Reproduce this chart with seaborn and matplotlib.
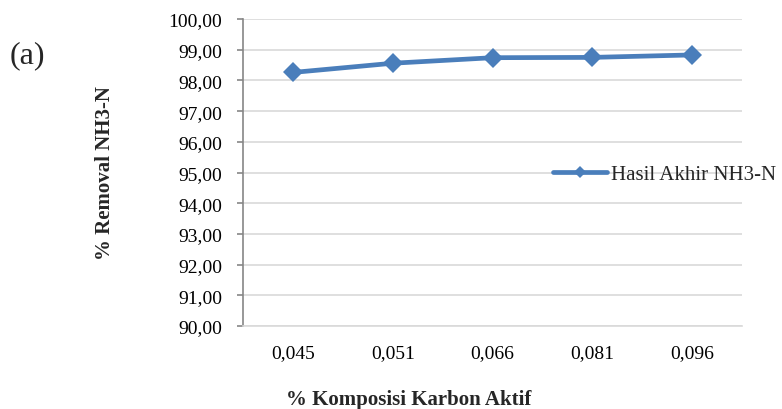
import matplotlib
matplotlib.use("Agg")
import matplotlib.pyplot as plt
import seaborn as sns
import pandas as pd
from matplotlib.ticker import FuncFormatter, MultipleLocator

# data
komposisi = ["0,045", "0,051", "0,066", "0,081", "0,096"]
removal = [98.26, 98.56, 98.74, 98.75, 98.83]
series_name = "Hasil Akhir NH3-N"

LINE_COLOR = "#4a7ebb"
GRID_COLOR = "#d9d9d9"
AXIS_COLOR = "#868686"

sns.set_theme(style="white")
plt.rcParams["font.family"] = ["Liberation Serif", "DejaVu Serif"]

df = pd.DataFrame({"Komposisi": komposisi, "Removal": removal, "Seri": series_name})

fig = plt.figure(figsize=(7.82, 4.10), dpi=100)
ax = fig.add_axes([0.311, 0.2024, 0.638, 0.7488])

sns.lineplot(
    data=df, x="Komposisi", y="Removal", hue="Seri", palette=[LINE_COLOR],
    marker="D", markersize=10.5, markeredgewidth=0, linewidth=3.4, sort=False, ax=ax,
)

ax.set_ylim(90, 100)
ax.set_xlim(-0.5, len(komposisi) - 0.5)
ax.yaxis.set_major_locator(MultipleLocator(1))
ax.yaxis.set_major_formatter(FuncFormatter(lambda v, p: f"{v:.2f}".replace(".", ",")))
ax.grid(axis="y", color=GRID_COLOR, linewidth=1.2)
ax.set_axisbelow(True)

for s in ["top", "right"]:
    ax.spines[s].set_visible(False)
ax.spines["left"].set_color(AXIS_COLOR)
ax.spines["left"].set_linewidth(1.2)
ax.spines["bottom"].set_color(GRID_COLOR)
ax.spines["bottom"].set_linewidth(1.2)

ax.tick_params(axis="y", which="major", left=True, length=4, width=1.2, color=AXIS_COLOR,
               labelsize=14, pad=11, labelcolor="black")
ax.tick_params(axis="x", which="major", bottom=False, length=0, labelsize=14, pad=13,
               labelcolor="black")

ax.set_xlabel("")
ax.set_ylabel("")
fig.text(0.523, 0.024, "% Komposisi Karbon Aktif", ha="center", va="center",
         fontsize=15, fontweight="bold")
fig.text(0.134, 0.578, "% Removal NH3-N", ha="center", va="center", rotation=90,
         fontsize=15, fontweight="bold")
fig.text(0.012, 0.865, "(a)", ha="left", va="center", fontsize=23)

ax.legend(loc="center left", frameon=False, fontsize=15, handlelength=2.6,
          handletextpad=0.2, borderpad=0, borderaxespad=0)
leg = ax.get_legend()
leg.set_bbox_to_anchor((553 / 782, 1 - 175 / 410), transform=fig.transFigure)
for h in leg.legend_handles:
    h.set_markersize(6)

fig.savefig("out.png", dpi=100)
